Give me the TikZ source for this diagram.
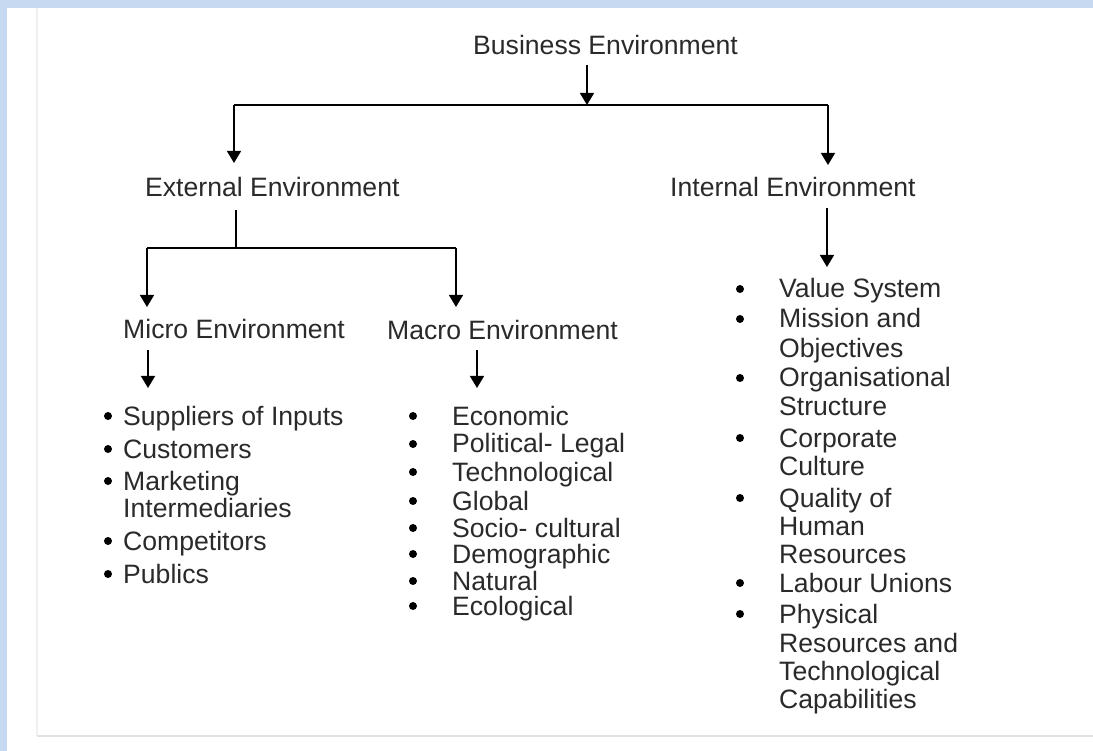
\documentclass[tikz,border=0pt]{standalone}
\usepackage{fontspec}
\setmainfont{Liberation Sans}
\usetikzlibrary{arrows.meta}
\definecolor{bgblue}{HTML}{C6D9F1}
\definecolor{txt}{HTML}{2A2A2A}
\definecolor{rule1}{HTML}{F0F0F0}
\definecolor{rule2}{HTML}{E2E2E2}
\begin{document}
\begin{tikzpicture}[x=1pt,y=-1pt,
  lbl/.style={inner sep=0pt, text=txt, font=\fontsize{26.6}{29}\selectfont, anchor=base west},
  arr/.style={draw=black, line width=1.5pt, -{Triangle[width=14pt,length=12pt]}},
  ln/.style={draw=black, line width=1.5pt},
  dot/.style={circle, fill=black, inner sep=0pt, minimum size=8pt}]
\useasboundingbox (0,0) rectangle (1093,751);
\fill[bgblue] (0,0) rectangle (1093,751);
\fill[white] (7,8) rectangle (1093,751);
\draw[rule1, line width=2pt] (37,8) -- (37,736);
\draw[rule2, line width=2pt] (37,736) -- (1093,736);

% headings
\node[lbl] (biz) at (473,55) {Business Environment};
\node[lbl] (ext) at (145,197) {External Environment};
\node[lbl] (int) at (670,197) {Internal Environment};
\node[lbl] (mic) at (123,339) {Micro Environment};
\node[lbl] (mac) at (387,340) {Macro Environment};

% connector points
\coordinate (bzt) at (587,65);
\coordinate (bzj) at (587,105);
\coordinate (bzl) at (234,105);
\coordinate (bzr) at (828,105);
\coordinate (extin) at (234,163);
\coordinate (intin) at (828,165);
\coordinate (ext0) at (236,210);
\coordinate (exj) at (236,248);
\coordinate (exl) at (147,248);
\coordinate (exr) at (456,248);
\coordinate (micin) at (147,307);
\coordinate (macin) at (456,307);
\coordinate (int0) at (827,208);
\coordinate (intl) at (827,267);
\coordinate (mic0) at (148,350);
\coordinate (micl) at (148,388);
\coordinate (mac0) at (477,350);
\coordinate (macl) at (477,388);

\draw[arr] (bzt) -- (bzj);
\draw[ln] (bzl) -- (bzr);
\draw[arr] (bzl) -- (extin);
\draw[arr] (bzr) -- (intin);
\draw[ln] (ext0) -- (exj);
\draw[ln] (exl) -- (exr);
\draw[arr] (exl) -- (micin);
\draw[arr] (exr) -- (macin);
\draw[arr] (int0) -- (intl);
\draw[arr] (mic0) -- (micl);
\draw[arr] (mac0) -- (macl);

% micro list
\foreach \t/\b [count=\i] in {Suppliers of Inputs/425, Customers/458, Marketing/490, Intermediaries/517, Competitors/550, Publics/583}
  \node[lbl] (mit\i) at (123,\b) {\t};
\foreach \b [count=\i] in {425,458,490,550,583}
  \node[dot] (mid\i) at (108,{\b-9}) {};

% macro list
\foreach \t/\b [count=\i] in {Economic/425, Political- Legal/453, Technological/481, Global/510, Socio- cultural/537, Demographic/563, Natural/590, Ecological/615}
  {\node[lbl] (mat\i) at (452,\b) {\t};
   \node[dot] (mad\i) at (413,{\b-9}) {};}

% internal list
\foreach \t/\b [count=\i] in {Value System/298, Mission and/328, Objectives/358, Organisational/387, Structure/415, Corporate/447, Culture/475, Quality of/507, Human/535, Resources/563, Labour Unions/592, Physical/623, Resources and/652, Technological/680, Capabilities/708}
  \node[lbl] (itx\i) at (779,\b) {\t};
\foreach \b [count=\i] in {298,328,387,447,507,592,623}
  \node[dot] (idt\i) at (740,{\b-9}) {};
\end{tikzpicture}
\end{document}
